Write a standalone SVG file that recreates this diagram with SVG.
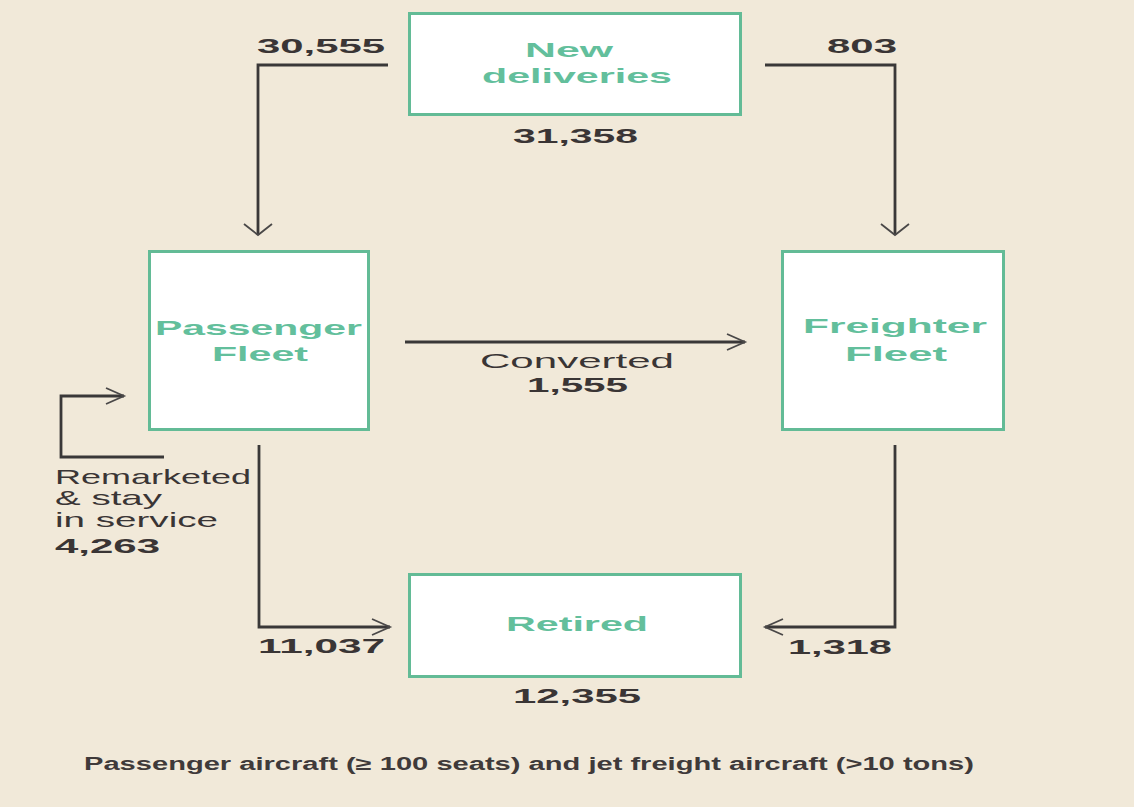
<svg xmlns="http://www.w3.org/2000/svg" width="1134" height="807" viewBox="0 0 1134 807">
<style>
.node{fill:#ffffff;stroke:#63bb96;stroke-width:3}
.lbl{font-family:"Liberation Sans",Arial,sans-serif;font-weight:bold;font-size:21px;fill:#63bf9c;text-anchor:start}
.num{font-family:"Liberation Sans",Arial,sans-serif;font-weight:bold;font-size:21px;fill:#3a3535}
.txt{font-family:"Liberation Sans",Arial,sans-serif;font-size:21px;fill:#3a3535}
.note{font-family:"Liberation Sans",Arial,sans-serif;font-weight:bold;font-size:18px;fill:#3f3a3a}
.line{fill:none;stroke:#3a3838;stroke-width:2.8}
.head{fill:none;stroke:#4a4848;stroke-width:1.8}
</style>
<rect x="0" y="0" width="1134" height="807" fill="#f1e9d9"/>
<g id="connectors">
  <path class="line" d="M388,65 H258 V235"/>
  <polyline class="head" points="244,224 258,235 272,224"/>
  <path class="line" d="M765,65 H895 V235"/>
  <polyline class="head" points="881,224 895,235 909,224"/>
  <path class="line" d="M405,342 H745"/>
  <polyline class="head" points="727,334 745,342 727,350"/>
  <path class="line" d="M164,457 H61 V396 H124"/>
  <polyline class="head" points="106,388 124,396 106,404"/>
  <path class="line" d="M259,445 V627 H390"/>
  <polyline class="head" points="372,619 390,627 372,635"/>
  <path class="line" d="M895,445 V627 H765"/>
  <polyline class="head" points="783,619 765,627 783,635"/>
  <text class="num" x="257" y="53" textLength="128" lengthAdjust="spacingAndGlyphs">30,555</text>
  <text class="num" x="827" y="53" textLength="70" lengthAdjust="spacingAndGlyphs">803</text>
  <text class="txt" x="480" y="368" textLength="194" lengthAdjust="spacingAndGlyphs">Converted</text>
  <text class="num" x="527" y="392" textLength="101" lengthAdjust="spacingAndGlyphs">1,555</text>
  <text class="txt" x="55" y="484" textLength="196" lengthAdjust="spacingAndGlyphs">Remarketed</text>
  <text class="txt" x="55" y="505" textLength="107" lengthAdjust="spacingAndGlyphs">&amp; stay</text>
  <text class="txt" x="55" y="527" textLength="163" lengthAdjust="spacingAndGlyphs">in service</text>
  <text class="num" x="55" y="553" textLength="105" lengthAdjust="spacingAndGlyphs">4,263</text>
  <text class="num" x="258" y="653" textLength="127" lengthAdjust="spacingAndGlyphs">11,037</text>
  <text class="num" x="788" y="654" textLength="104" lengthAdjust="spacingAndGlyphs">1,318</text>
</g>
<g id="new-deliveries">
  <rect class="node" x="409.5" y="13.5" width="331" height="101"/>
  <text class="lbl" x="525" y="57" textLength="88" lengthAdjust="spacingAndGlyphs">New</text>
  <text class="lbl" x="482" y="83" textLength="190" lengthAdjust="spacingAndGlyphs">deliveries</text>
  <text class="num" x="513" y="143" textLength="125" lengthAdjust="spacingAndGlyphs">31,358</text>
</g>
<g id="passenger-fleet">
  <rect class="node" x="149.5" y="251.5" width="219" height="178"/>
  <text class="lbl" x="155" y="335" textLength="207" lengthAdjust="spacingAndGlyphs">Passenger</text>
  <text class="lbl" x="212" y="361" textLength="96" lengthAdjust="spacingAndGlyphs">Fleet</text>
</g>
<g id="freighter-fleet">
  <rect class="node" x="782.5" y="251.5" width="221" height="178"/>
  <text class="lbl" x="803" y="333" textLength="184" lengthAdjust="spacingAndGlyphs">Freighter</text>
  <text class="lbl" x="845" y="361" textLength="102" lengthAdjust="spacingAndGlyphs">Fleet</text>
</g>
<g id="retired">
  <rect class="node" x="409.5" y="574.5" width="331" height="102"/>
  <text class="lbl" x="506" y="631" textLength="142" lengthAdjust="spacingAndGlyphs">Retired</text>
  <text class="num" x="513" y="703" textLength="128" lengthAdjust="spacingAndGlyphs">12,355</text>
</g>
<text class="note" x="84" y="770" textLength="890" lengthAdjust="spacingAndGlyphs">Passenger aircraft (≥ 100 seats) and jet freight aircraft (&gt;10 tons)</text>
</svg>
